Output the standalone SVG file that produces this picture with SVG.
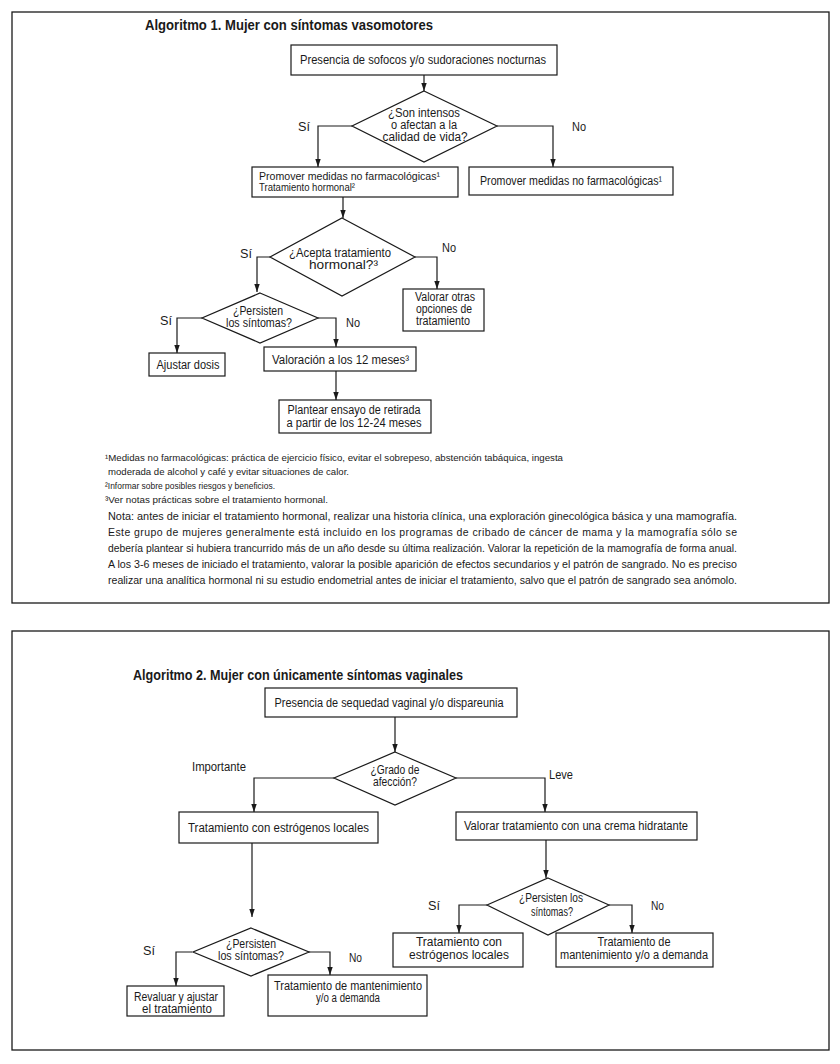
<svg xmlns="http://www.w3.org/2000/svg" width="840" height="1064" viewBox="0 0 840 1064">
<defs>
<style>
.panel{fill:#fff;stroke:#1a1a1a;stroke-width:1.3}
.box{fill:#fff;stroke:#1a1a1a;stroke-width:1.2}
.edge{fill:none;stroke:#1a1a1a;stroke-width:1.2;marker-end:url(#arr)}
.t{font-family:"Liberation Sans",Arial,sans-serif;font-size:12px;fill:#1a1a1a}
.t11{font-family:"Liberation Sans",Arial,sans-serif;font-size:11.5px;fill:#1a1a1a}
.c{text-anchor:middle}
.title{font-family:"Liberation Sans",Arial,sans-serif;font-weight:bold;font-size:15px;fill:#1a1a1a}
.fn{font-family:"Liberation Sans",Arial,sans-serif;font-size:9.5px;fill:#1a1a1a}
.nota{font-family:"Liberation Sans",Arial,sans-serif;font-size:10.5px;fill:#1a1a1a}
</style>
<marker id="arr" viewBox="0 0 8 8" refX="8" refY="4" markerWidth="8" markerHeight="8" markerUnits="userSpaceOnUse" orient="auto"><path d="M0,1.3 L8,4 L0,6.7 z" fill="#1a1a1a"/></marker>
</defs>
<rect width="840" height="1064" fill="#fff"/>

<g id="panel1">
<rect class="panel" x="12" y="12" width="817" height="591"/>
<text class="title" x="145" y="30" textLength="288" lengthAdjust="spacingAndGlyphs">Algoritmo 1. Mujer con síntomas vasomotores</text>

<g id="connectors1">
<path class="edge" d="M424,75 V91"/>
<path class="edge" d="M352,126 H318 V167"/>
<path class="edge" d="M497,126 H553 V167"/>
<path class="edge" d="M343,197 V218"/>
<path class="edge" d="M270,257 H257 V292"/>
<path class="edge" d="M415,257 H437 V289"/>
<path class="edge" d="M202,318 H177 V353"/>
<path class="edge" d="M318,318 H336 V347"/>
<path class="edge" d="M336,371 V400"/>
<text class="t" x="298" y="131" textLength="12" lengthAdjust="spacingAndGlyphs">Sí</text>
<text class="t" x="572" y="131" textLength="14" lengthAdjust="spacingAndGlyphs">No</text>
<text class="t" x="240" y="258" textLength="12" lengthAdjust="spacingAndGlyphs">Sí</text>
<text class="t" x="442" y="252" textLength="14" lengthAdjust="spacingAndGlyphs">No</text>
<text class="t" x="160" y="325" textLength="12" lengthAdjust="spacingAndGlyphs">Sí</text>
<text class="t" x="346" y="327" textLength="14" lengthAdjust="spacingAndGlyphs">No</text>
</g>

<g id="a1-start">
<rect class="box" x="291" y="45" width="266" height="30"/>
<text class="t c" x="423" y="64" textLength="246" lengthAdjust="spacingAndGlyphs">Presencia de sofocos y/o sudoraciones nocturnas</text>
</g>
<g id="a1-intensos">
<polygon class="box" points="424,91 497,126 424,162 352,126"/>
<text class="t c" x="424" y="117" textLength="72" lengthAdjust="spacingAndGlyphs">¿Son intensos</text>
<text class="t c" x="424" y="129" textLength="66" lengthAdjust="spacingAndGlyphs">o afectan a la</text>
<text class="t c" x="425" y="141" textLength="85" lengthAdjust="spacingAndGlyphs">calidad de vida?</text>
</g>
<g id="a1-promover-th">
<rect class="box" x="252" y="167" width="206" height="30"/>
<text class="t11" x="259" y="180" textLength="181" lengthAdjust="spacingAndGlyphs">Promover medidas no farmacológicas¹</text>
<text class="t11" x="259" y="191" textLength="96" lengthAdjust="spacingAndGlyphs">Tratamiento hormonal²</text>
</g>
<g id="a1-promover">
<rect class="box" x="469" y="167" width="204" height="28"/>
<text class="t" x="480" y="185" textLength="182" lengthAdjust="spacingAndGlyphs">Promover medidas no farmacológicas¹</text>
</g>
<g id="a1-acepta">
<polygon class="box" points="342,218 415,257 342,296 270,257"/>
<text class="t c" x="340" y="257" textLength="102" lengthAdjust="spacingAndGlyphs">¿Acepta tratamiento</text>
<text class="t" x="309" y="269" textLength="69" lengthAdjust="spacingAndGlyphs">hormonal?³</text>
</g>
<g id="a1-valorar-otras">
<rect class="box" x="403" y="289" width="81" height="42"/>
<text class="t" x="415" y="301" textLength="60" lengthAdjust="spacingAndGlyphs">Valorar otras</text>
<text class="t" x="416" y="313" textLength="56" lengthAdjust="spacingAndGlyphs">opciones de</text>
<text class="t" x="416" y="325" textLength="54" lengthAdjust="spacingAndGlyphs">tratamiento</text>
</g>
<g id="a1-persisten">
<polygon class="box" points="260,293 318,318 260,343 202,318"/>
<text class="t c" x="258" y="315" textLength="50" lengthAdjust="spacingAndGlyphs">¿Persisten</text>
<text class="t c" x="259" y="327" textLength="66" lengthAdjust="spacingAndGlyphs">los síntomas?</text>
</g>
<g id="a1-ajustar">
<rect class="box" x="149" y="353" width="76" height="23"/>
<text class="t c" x="188" y="369" textLength="63" lengthAdjust="spacingAndGlyphs">Ajustar dosis</text>
</g>
<g id="a1-valoracion">
<rect class="box" x="264" y="347" width="152" height="24"/>
<text class="t" x="272" y="364" textLength="137" lengthAdjust="spacingAndGlyphs">Valoración a los 12 meses³</text>
</g>
<g id="a1-plantear">
<rect class="box" x="279" y="400" width="152" height="33"/>
<text class="t c" x="354" y="414" textLength="133" lengthAdjust="spacingAndGlyphs">Plantear ensayo de retirada</text>
<text class="t c" x="354" y="427" textLength="135" lengthAdjust="spacingAndGlyphs">a partir de los 12-24 meses</text>
</g>

<g id="a1-notes">
<text class="fn" x="105" y="461" textLength="458" lengthAdjust="spacingAndGlyphs">¹Medidas no farmacológicas: práctica de ejercicio físico, evitar el sobrepeso, abstención tabáquica, ingesta</text>
<text class="fn" x="108" y="475" textLength="241" lengthAdjust="spacingAndGlyphs">moderada de alcohol y café y evitar situaciones de calor.</text>
<text class="fn" x="105" y="489" textLength="170" lengthAdjust="spacingAndGlyphs">²Informar sobre posibles riesgos y beneficios.</text>
<text class="fn" x="105" y="503" textLength="223" lengthAdjust="spacingAndGlyphs">³Ver notas prácticas sobre el tratamiento hormonal.</text>
<text class="nota" x="108" y="520" textLength="629" lengthAdjust="spacingAndGlyphs">Nota: antes de iniciar el tratamiento hormonal, realizar una historia clínica, una exploración ginecológica básica y una mamografía.</text>
<text class="nota" x="108" y="536" textLength="629" lengthAdjust="spacing">Este grupo de mujeres generalmente está incluido en los programas de cribado de cáncer de mama y la mamografía sólo se</text>
<text class="nota" x="108" y="552" textLength="629" lengthAdjust="spacingAndGlyphs">debería plantear si hubiera trancurrido más de un año desde su última realización. Valorar la repetición de la mamografía de forma anual.</text>
<text class="nota" x="108" y="568" textLength="629" lengthAdjust="spacingAndGlyphs">A los 3-6 meses de iniciado el tratamiento, valorar la posible aparición de efectos secundarios y el patrón de sangrado. No es preciso</text>
<text class="nota" x="108" y="584" textLength="629" lengthAdjust="spacingAndGlyphs">realizar una analítica hormonal  ni su estudio endometrial antes de iniciar el tratamiento, salvo que el patrón de sangrado sea anómolo.</text>
</g>
</g>

<g id="panel2">
<rect class="panel" x="12" y="631" width="817" height="419"/>
<text class="title" x="133" y="680" textLength="330" lengthAdjust="spacingAndGlyphs">Algoritmo 2. Mujer con únicamente síntomas vaginales</text>

<g id="connectors2">
<path class="edge" d="M395,717 V752"/>
<path class="edge" d="M334,778 H254 V812"/>
<path class="edge" d="M456,778 H545 V812"/>
<path class="edge" d="M252,843 V917"/>
<path class="edge" d="M546,840 V878"/>
<path class="edge" d="M487,905 H459 V933"/>
<path class="edge" d="M609,905 H632 V933"/>
<path class="edge" d="M192,952 H176 V986"/>
<path class="edge" d="M308,952 H330 V975"/>
<text class="t" x="192" y="771" textLength="54" lengthAdjust="spacingAndGlyphs">Importante</text>
<text class="t" x="549" y="779" textLength="24" lengthAdjust="spacingAndGlyphs">Leve</text>
<text class="t" x="428" y="910" textLength="12" lengthAdjust="spacingAndGlyphs">Sí</text>
<text class="t" x="651" y="910" textLength="13" lengthAdjust="spacingAndGlyphs">No</text>
<text class="t" x="143" y="955" textLength="12" lengthAdjust="spacingAndGlyphs">Sí</text>
<text class="t" x="349" y="962" textLength="13" lengthAdjust="spacingAndGlyphs">No</text>
</g>

<g id="a2-start">
<rect class="box" x="265" y="688" width="252" height="29"/>
<text class="t c" x="389" y="707" textLength="229" lengthAdjust="spacingAndGlyphs">Presencia de sequedad vaginal y/o dispareunia</text>
</g>
<g id="a2-grado">
<polygon class="box" points="395,752 456,778 395,805 334,778"/>
<text class="t c" x="395" y="774" textLength="49" lengthAdjust="spacingAndGlyphs">¿Grado de</text>
<text class="t c" x="395" y="786" textLength="44" lengthAdjust="spacingAndGlyphs">afección?</text>
</g>
<g id="a2-estrogenos">
<rect class="box" x="179" y="812" width="199" height="31"/>
<text class="t c" x="278.5" y="832" textLength="181" lengthAdjust="spacingAndGlyphs">Tratamiento con estrógenos locales</text>
</g>
<g id="a2-crema">
<rect class="box" x="456" y="812" width="241" height="28"/>
<text class="t c" x="576" y="830" textLength="224" lengthAdjust="spacingAndGlyphs">Valorar tratamiento con una crema hidratante</text>
</g>
<g id="a2-persisten-left">
<polygon class="box" points="251,928 309,952 251,976 193,952"/>
<text class="t c" x="251" y="948" textLength="50" lengthAdjust="spacingAndGlyphs">¿Persisten</text>
<text class="t c" x="251" y="960" textLength="66" lengthAdjust="spacingAndGlyphs">los síntomas?</text>
</g>
<g id="a2-persisten-right">
<polygon class="box" points="548,878 609,905 548,935 487,905"/>
<text class="t c" x="551" y="902" textLength="64" lengthAdjust="spacingAndGlyphs">¿Persisten los</text>
<text class="t c" x="552" y="916" textLength="42" lengthAdjust="spacingAndGlyphs">síntomas?</text>
</g>
<g id="a2-revaluar">
<rect class="box" x="127" y="986" width="97" height="30"/>
<text class="t c" x="176" y="1001" textLength="84" lengthAdjust="spacingAndGlyphs">Revaluar y ajustar</text>
<text class="t c" x="177" y="1013" textLength="70" lengthAdjust="spacingAndGlyphs">el tratamiento</text>
</g>
<g id="a2-mantenimiento-left">
<rect class="box" x="268" y="975" width="159" height="41"/>
<text class="t c" x="348" y="990" textLength="148" lengthAdjust="spacingAndGlyphs">Tratamiento de mantenimiento</text>
<text class="t c" x="348" y="1002" textLength="64" lengthAdjust="spacingAndGlyphs">y/o a demanda</text>
</g>
<g id="a2-estrogenos-right">
<rect class="box" x="393" y="933" width="130" height="34"/>
<text class="t c" x="459" y="946" textLength="86" lengthAdjust="spacingAndGlyphs">Tratamiento con</text>
<text class="t c" x="459" y="959" textLength="100" lengthAdjust="spacingAndGlyphs">estrógenos locales</text>
</g>
<g id="a2-mantenimiento-right">
<rect class="box" x="556" y="933" width="157" height="34"/>
<text class="t c" x="634" y="946" textLength="73" lengthAdjust="spacingAndGlyphs">Tratamiento de</text>
<text class="t c" x="634" y="959" textLength="148" lengthAdjust="spacingAndGlyphs">mantenimiento y/o a demanda</text>
</g>
</g>
</svg>
